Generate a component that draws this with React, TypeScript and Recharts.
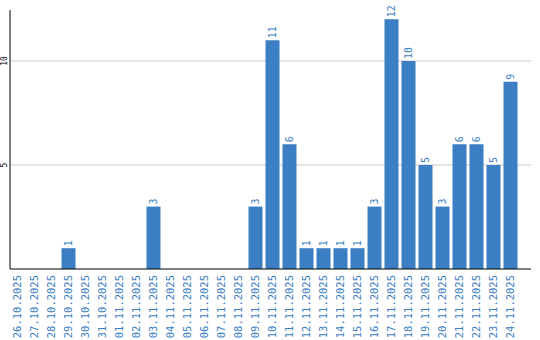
import { BarChart, Bar, XAxis, YAxis, CartesianGrid, LabelList } from 'recharts';

const dates = [
  '26.10.2025', '27.10.2025', '28.10.2025', '29.10.2025', '30.10.2025', '31.10.2025',
  '01.11.2025', '02.11.2025', '03.11.2025', '04.11.2025', '05.11.2025', '06.11.2025',
  '07.11.2025', '08.11.2025', '09.11.2025', '10.11.2025', '11.11.2025', '12.11.2025',
  '13.11.2025', '14.11.2025', '15.11.2025', '16.11.2025', '17.11.2025', '18.11.2025',
  '19.11.2025', '20.11.2025', '21.11.2025', '22.11.2025', '23.11.2025', '24.11.2025',
];
const counts = [0, 0, 0, 1, 0, 0, 0, 0, 3, 0, 0, 0, 0, 0, 3, 11, 6, 1, 1, 1, 1, 3, 12, 10, 5, 3, 6, 6, 5, 9];
const yTicks = [5, 10];

const BLUE = '#3b7ec3';
const MONO = '"DejaVu Sans Mono", monospace';

const data = dates.map((d, i) => ({ date: d, count: counts[i] }));

const XTick = ({ x, payload }: any) => (
  <text
    transform={`translate(${x},275) rotate(-90)`}
    textAnchor="end"
    dominantBaseline="central"
    fontFamily={MONO}
    fontSize={10.5}
    fill={BLUE}
  >
    {payload.value}
  </text>
);

const YTick = ({ y, payload }: any) => (
  <text
    transform={`translate(4.5,${y}) rotate(-90)`}
    textAnchor="middle"
    dominantBaseline="central"
    fontFamily={MONO}
    fontSize={8}
    fill="#000"
  >
    {payload.value}
  </text>
);

const ValueLabel = ({ x, y, width, value }: any) => {
  if (!value) return null;
  return (
    <text
      transform={`translate(${x + width / 2},${y - 2}) rotate(-90)`}
      textAnchor="start"
      dominantBaseline="central"
      fontFamily={MONO}
      fontSize={10}
      fill={BLUE}
    >
      {value}
    </text>
  );
};

export default function App() {
  return (
    <div style={{ position: 'fixed', left: 0, top: 0, width: 540, height: 340, background: '#fff' }}>
      <BarChart width={540} height={340} data={data} margin={{ top: 10, right: 9, bottom: 0, left: 0 }}>
        <CartesianGrid vertical={false} horizontal={true} horizontalValues={yTicks} stroke="#c8c8c8" />
        <XAxis
          dataKey="date"
          interval={0}
          height={71}
          padding={{ left: -1.5, right: 12.5 }}
          axisLine={{ stroke: '#000' }}
          tickLine={false}
          tick={<XTick />}
        />
        <YAxis
          width={10}
          domain={[0, 12.45]}
          ticks={yTicks}
          axisLine={{ stroke: '#000' }}
          tickLine={false}
          tick={<YTick />}
        />
        <Bar dataKey="count" fill={BLUE} barSize={14} isAnimationActive={false}>
          <LabelList dataKey="count" content={<ValueLabel />} />
        </Bar>
      </BarChart>
    </div>
  );
}
